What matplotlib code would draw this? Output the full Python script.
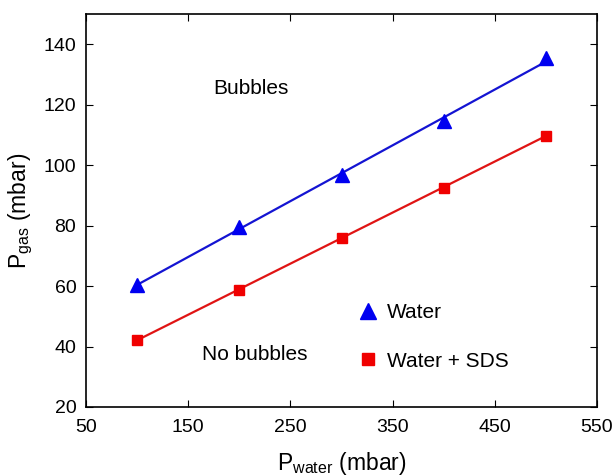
import numpy as np
import matplotlib.pyplot as plt

plt.rcParams["font.family"] = ["Liberation Sans", "DejaVu Sans"]
plt.rcParams["mathtext.fontset"] = "custom"
plt.rcParams["mathtext.rm"] = "Liberation Sans"

p_water = [100, 200, 300, 400, 500]
p_gas_water = [60.5, 79.5, 96.8, 114.5, 135.3]
p_gas_sds = [42.2, 58.8, 76.0, 92.5, 109.8]

fig = plt.figure(figsize=(6.14, 4.76), dpi=100)
ax = fig.add_axes([0.1401, 0.145, 0.8322, 0.8256])

# linear fits through each series
xs = np.array([p_water[0], p_water[-1]])
k1, b1 = np.polyfit(p_water, p_gas_water, 1)
k2, b2 = np.polyfit(p_water, p_gas_sds, 1)
ax.plot(xs, k1 * xs + b1, color="#1414d2", lw=1.6)
ax.plot(xs, k2 * xs + b2, color="#e01414", lw=1.6)

ax.plot(p_water, p_gas_water, "^", color="#0000f0", ms=10.5, label="Water")
ax.plot(p_water, p_gas_sds, "s", color="#f00000", ms=7.5, label="Water + SDS")

ax.text(211.5, 125.5, "Bubbles", fontsize=15, ha="center", va="center")
ax.text(215.5, 37.2, "No bubbles", fontsize=15, ha="center", va="center")

ax.legend(loc="center left", bbox_to_anchor=(0.494, 0.178), frameon=False,
          fontsize=15, handlelength=1.0, handletextpad=0.45, labelspacing=1.4,
          numpoints=1, markerscale=1.1)

ax.set_xlim(50, 550)
ax.set_ylim(20, 150)
ax.set_xticks([50, 150, 250, 350, 450, 550])
ax.set_yticks([20, 40, 60, 80, 100, 120, 140])
ax.tick_params(direction="in", top=True, right=True, labelsize=14, length=5)
ax.tick_params(axis="x", pad=9)
ax.tick_params(axis="y", pad=7)
for s in ax.spines.values():
    s.set_linewidth(1.2)

ax.set_xlabel(r"P$_{\mathrm{water}}$ (mbar)", fontsize=16.5, labelpad=10)
ax.set_ylabel(r"P$_{\mathrm{gas}}$ (mbar)", fontsize=16.5, labelpad=6)

fig.savefig("out.png", dpi=100)
